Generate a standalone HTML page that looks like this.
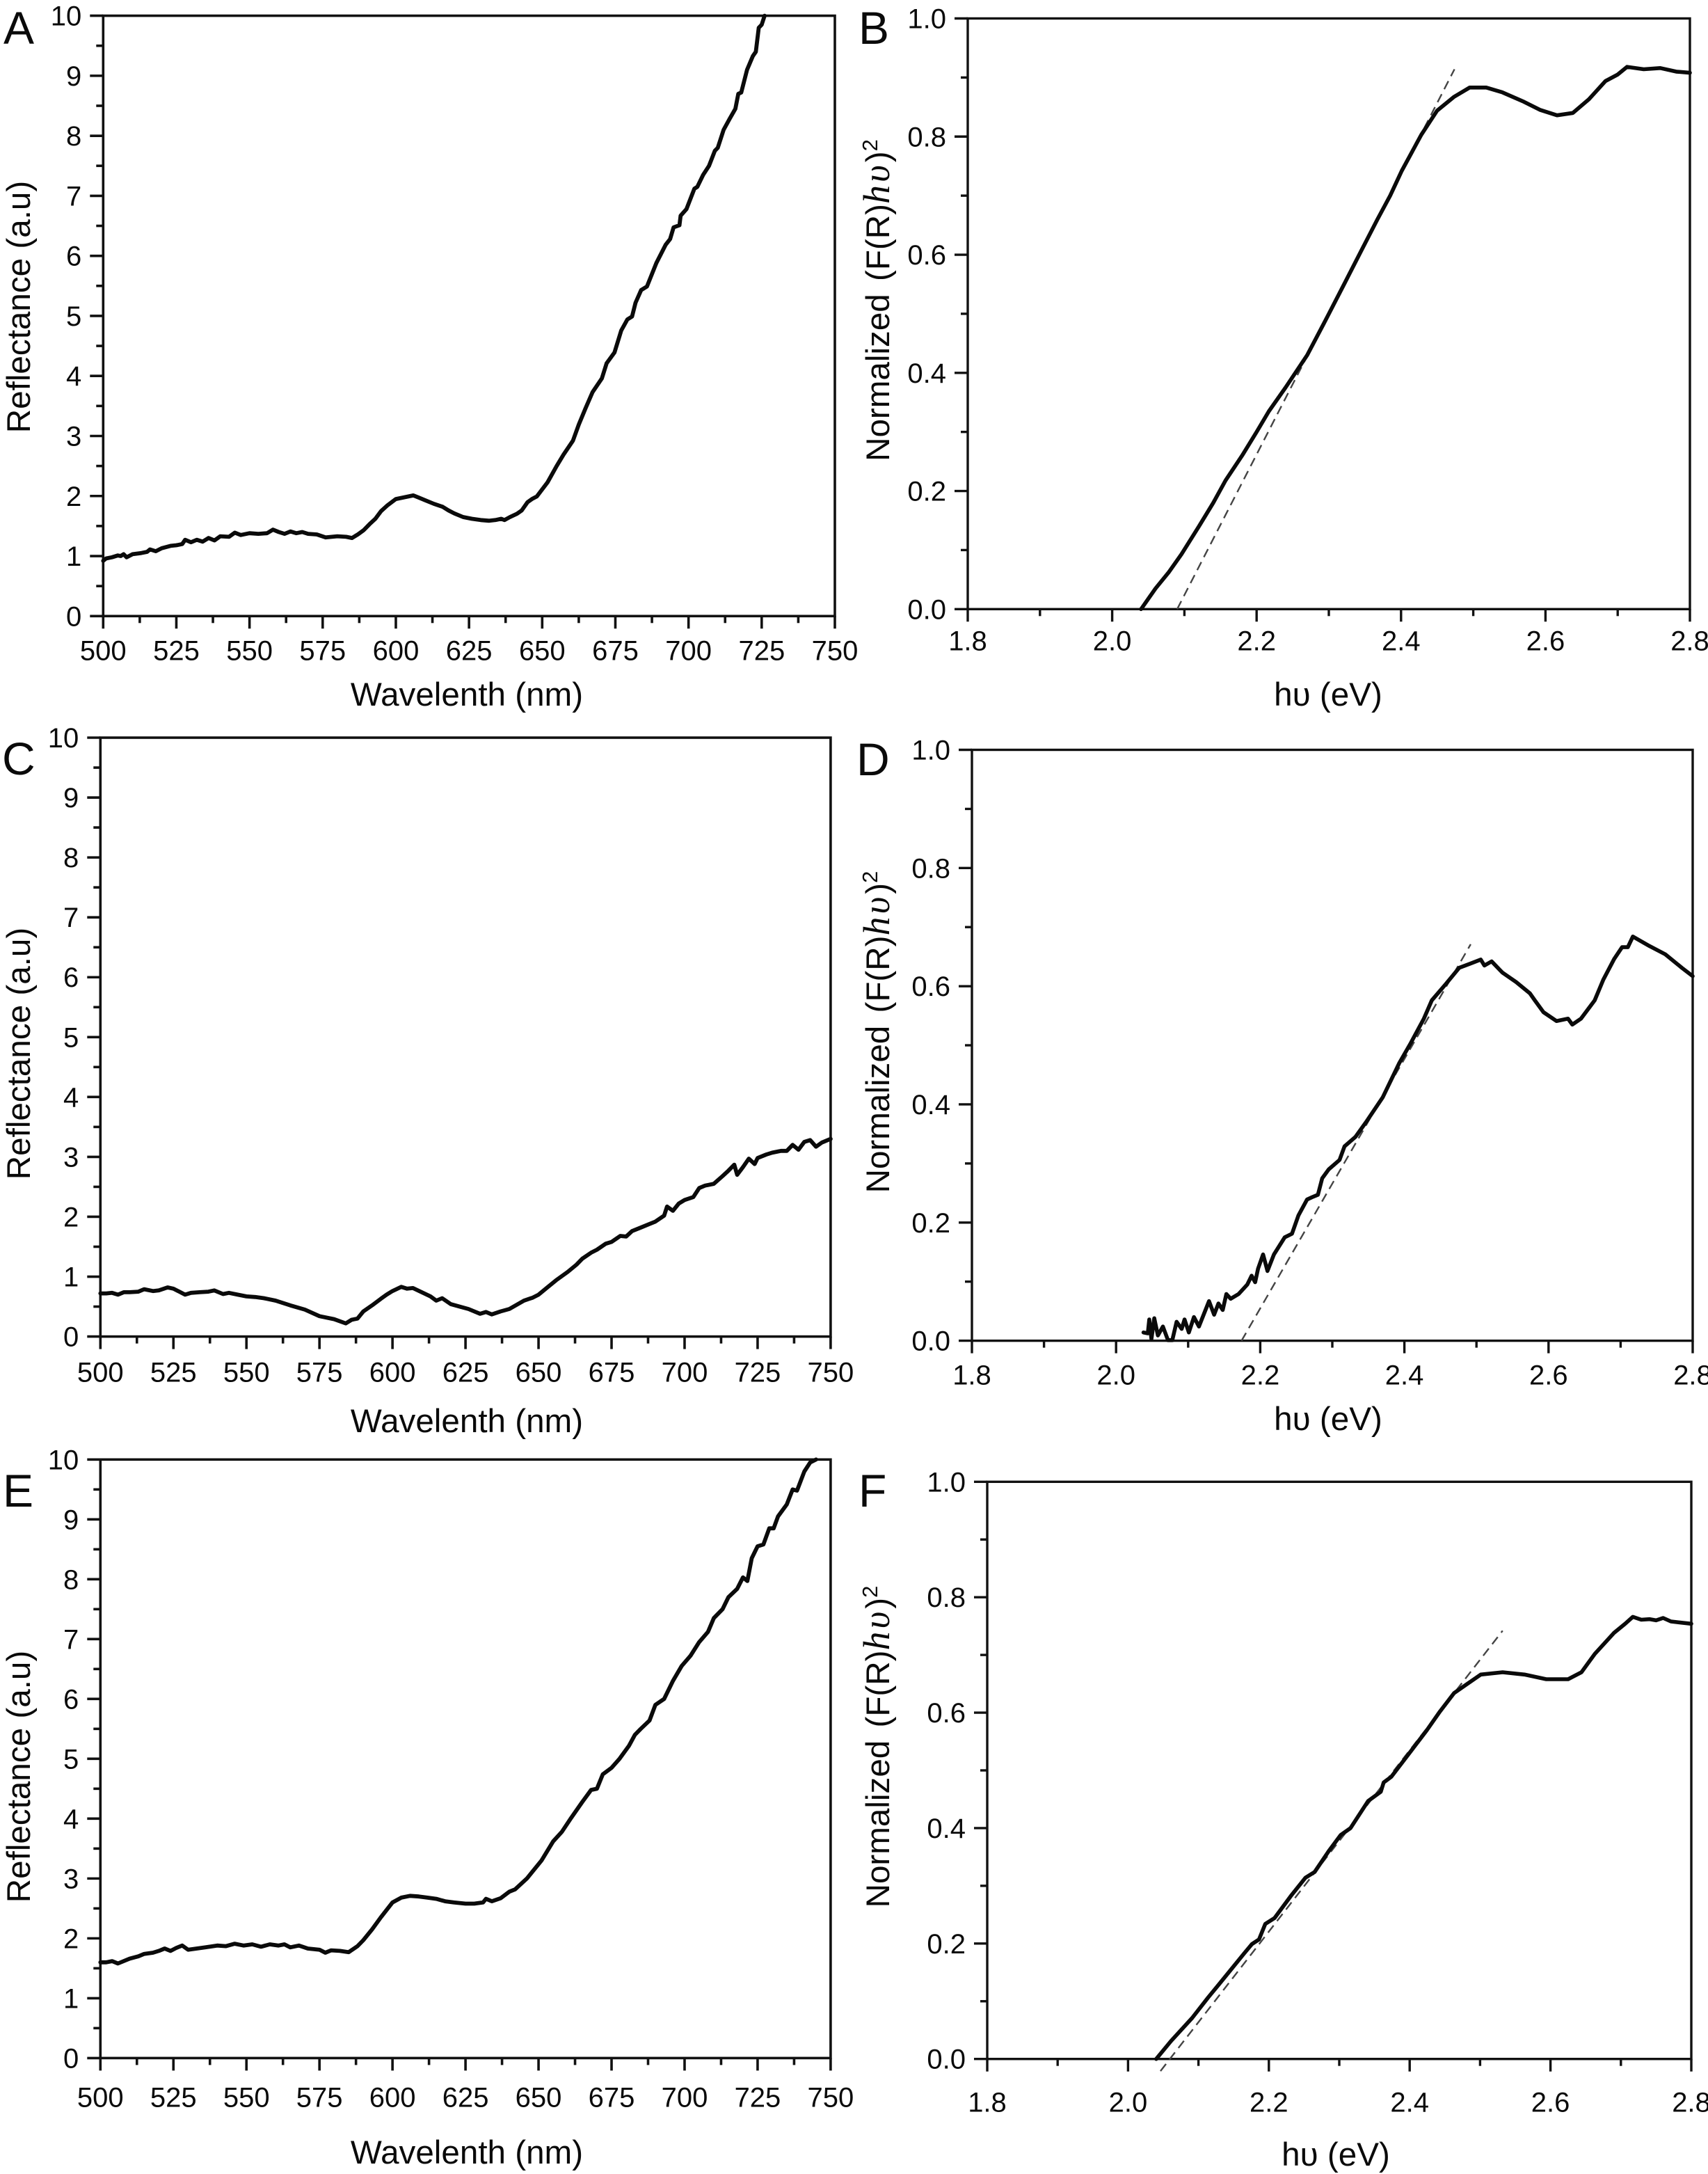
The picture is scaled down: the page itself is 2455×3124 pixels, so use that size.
<!DOCTYPE html>
<html lang="en">
<head>
<meta charset="utf-8">
<title>Reflectance and Tauc plots</title>
<style>
html,body{margin:0;padding:0;background:#fff;}
svg{display:block;}
text{font-family:"Liberation Sans",sans-serif;fill:#0a0a0a;}
.tick{font-size:40px;}
.title{font-size:47.6px;}
.norm{font-size:47.6px;word-spacing:5px;}
.hv{font-family:"Liberation Serif",serif;font-style:italic;font-size:54px;letter-spacing:4px;}
.letter{font-size:66px;}
</style>
</head>
<body>
<svg id="figure" xmlns="http://www.w3.org/2000/svg" width="2455" height="3124" viewBox="0 0 2455 3124">
  <rect x="0" y="0" width="2455" height="3124" fill="#fff"/>

  <text class="letter" x="5" y="63">A</text>
  <text class="letter" x="1234" y="63">B</text>
  <text class="letter" x="3" y="1113">C</text>
  <text class="letter" x="1231" y="1114">D</text>
  <text class="letter" x="4" y="2165">E</text>
  <text class="letter" x="1234" y="2165">F</text>

  <text class="title" text-anchor="middle" x="671" y="1014">Wavelenth (nm)</text>
  <text class="title" text-anchor="middle" x="671" y="2058">Wavelenth (nm)</text>
  <text class="title" text-anchor="middle" x="671" y="3109">Wavelenth (nm)</text>
  <text class="title" text-anchor="middle" x="1909" y="1014">hυ (eV)</text>
  <text class="title" text-anchor="middle" x="1909" y="2055">hυ (eV)</text>
  <text class="title" text-anchor="middle" x="1920" y="3112">hυ (eV)</text>

  <text class="title" text-anchor="middle" transform="translate(43 441) rotate(-90)">Reflectance (a.u)</text>
  <text class="title" text-anchor="middle" transform="translate(43 1514) rotate(-90)">Reflectance (a.u)</text>
  <text class="title" text-anchor="middle" transform="translate(43 2553) rotate(-90)">Reflectance (a.u)</text>

  <text class="norm" text-anchor="middle" transform="translate(1278 431.5) rotate(-90)">Normalized (F(R)<tspan class="hv">hυ</tspan>)<tspan dy="-17" font-size="31">2</tspan></text>
  <text class="norm" text-anchor="middle" transform="translate(1278 1483) rotate(-90)">Normalized (F(R)<tspan class="hv">hυ</tspan>)<tspan dy="-17" font-size="31">2</tspan></text>
  <text class="norm" text-anchor="middle" transform="translate(1278 2510) rotate(-90)">Normalized (F(R)<tspan class="hv">hυ</tspan>)<tspan dy="-17" font-size="31">2</tspan></text>
</svg>

<script>
var wavelengthTickLabels = ['500','525','550','575','600','625','650','675','700','725','750'];
var reflectanceTickLabels = ['0','1','2','3','4','5','6','7','8','9','10'];
var energyTickLabels = ['1.8','2.0','2.2','2.4','2.6','2.8'];
var normalizedTickLabels = ['0.0','0.2','0.4','0.6','0.8','1.0'];

var panelAWavelength = [500,501,503,505,506,507,508,510,513,515,516,518,520,523,525,527,528,530,532,534,536,538,540,543,545,547,550,553,556,558,560,562,564,566,568,570,573,576,580,583,585,587,589,591,593,595,597,600,603,606,608,610,613,616,618,620,623,626,629,631.9,634,636,637.1,639,641.4,643,645,646.5,648.2,651.8,654.9,657.3,660.5,662.5,664.8,667.2,670.4,672,674.7,677,679.1,680.7,681.9,683.8,685.8,689,692.2,693.7,694.9,696.9,697.3,699.3,702,703,705,707,709,710,712,714,716,717,718,720,722,723,724,725,726];
var panelAReflectance = [0.92,0.96,0.98,1.01,1.0,1.03,0.98,1.03,1.05,1.07,1.11,1.08,1.13,1.17,1.18,1.2,1.27,1.23,1.27,1.24,1.3,1.26,1.33,1.32,1.39,1.35,1.38,1.37,1.38,1.44,1.4,1.37,1.41,1.38,1.4,1.37,1.36,1.31,1.33,1.32,1.3,1.36,1.43,1.53,1.62,1.75,1.84,1.95,1.98,2.01,1.97,1.93,1.87,1.82,1.76,1.71,1.65,1.62,1.6,1.588,1.6,1.62,1.6,1.65,1.704,1.76,1.897,1.95,1.994,2.225,2.496,2.689,2.921,3.19,3.46,3.73,3.96,4.21,4.39,4.756,4.94,4.99,5.22,5.43,5.49,5.88,6.185,6.28,6.475,6.51,6.67,6.78,7.12,7.15,7.35,7.5,7.75,7.8,8.1,8.28,8.45,8.7,8.72,9.1,9.33,9.4,9.8,9.85,10];

var panelCWavelength = [500,502,504,506,508,510,513,515,518,520,523,525,527,529,531,534,537,539,542,544,547,550,553,556,560,565,570,575,580,584,586,588,590,593,596,598,600,603,605,607,610,613,615,617,620,623,626,630,632,634,637,640,645,648,650,653,656,660,663,665,668,670,673,675,678,680,682,685,688,690,693,694,696,698,700,703,705,707,710,713,715,717,718,720,722,724,725,728,730,733,735,737,739,741,743,745,747,750];
var panelCReflectance = [0.72,0.72,0.73,0.7,0.74,0.74,0.75,0.79,0.76,0.77,0.82,0.8,0.75,0.7,0.73,0.74,0.75,0.77,0.71,0.73,0.7,0.67,0.66,0.64,0.6,0.52,0.45,0.34,0.29,0.22,0.28,0.3,0.42,0.52,0.63,0.7,0.76,0.83,0.8,0.81,0.74,0.67,0.6,0.64,0.54,0.5,0.46,0.38,0.41,0.37,0.42,0.46,0.6,0.65,0.7,0.82,0.94,1.08,1.2,1.3,1.4,1.45,1.55,1.58,1.68,1.67,1.76,1.82,1.88,1.92,2.02,2.17,2.1,2.22,2.28,2.33,2.48,2.52,2.55,2.68,2.77,2.87,2.7,2.83,2.97,2.88,2.98,3.04,3.07,3.1,3.1,3.2,3.12,3.25,3.28,3.17,3.24,3.3];

var panelEWavelength = [500,502,504,506,510,513,515,518,520,522,524,526,528,530,533,536,540,543,546,549,552,555,558,561,563,565,568,571,575,577,579,582,585,588,590,593,596,600,603,606,609,612,615,618,621,625,628,631,632,634,637,640,642,646,651,655,658,661,665,668,670,672,675,677.7,681,683,685,688,690,693,696,699,702,705,708,710,713,715,718,720,721.5,723,725,727,729,730.5,732,735,737,738.5,741,743,745];
var panelEReflectance = [1.6,1.6,1.62,1.58,1.66,1.7,1.74,1.76,1.79,1.83,1.79,1.84,1.88,1.81,1.83,1.85,1.88,1.87,1.91,1.88,1.9,1.86,1.9,1.88,1.9,1.85,1.88,1.83,1.81,1.76,1.8,1.79,1.77,1.87,1.97,2.15,2.35,2.6,2.68,2.71,2.7,2.68,2.66,2.62,2.6,2.58,2.58,2.6,2.66,2.62,2.67,2.78,2.82,3.0,3.3,3.62,3.78,4.0,4.28,4.48,4.5,4.74,4.85,5.0,5.22,5.4,5.5,5.64,5.9,6.0,6.3,6.55,6.72,6.95,7.12,7.35,7.5,7.7,7.84,8.03,7.97,8.35,8.55,8.58,8.85,8.85,9.05,9.25,9.5,9.48,9.8,9.95,10];

var panelBEnergy = [2.04,2.06,2.078,2.096,2.12,2.14,2.157,2.18,2.2,2.217,2.24,2.27,2.295,2.322,2.345,2.367,2.385,2.401,2.428,2.45,2.473,2.495,2.518,2.54,2.57,2.593,2.616,2.638,2.66,2.683,2.7,2.713,2.736,2.759,2.781,2.8];
var panelBNormalized = [0,0.035,0.062,0.093,0.14,0.18,0.218,0.26,0.3,0.335,0.375,0.43,0.488,0.552,0.607,0.659,0.7,0.742,0.803,0.844,0.867,0.883,0.883,0.875,0.859,0.845,0.836,0.84,0.863,0.894,0.905,0.918,0.914,0.916,0.91,0.908];
var panelBFitEnergy = [2.09,2.474];
var panelBFitNormalized = [0,0.914];

var panelDEnergy = [2.038,2.044,2.046,2.049,2.053,2.058,2.065,2.072,2.078,2.084,2.091,2.095,2.101,2.108,2.115,2.129,2.136,2.142,2.148,2.153,2.159,2.17,2.182,2.188,2.193,2.197,2.204,2.21,2.219,2.234,2.244,2.253,2.265,2.272,2.28,2.286,2.295,2.31,2.317,2.332,2.348,2.37,2.393,2.408,2.427,2.438,2.457,2.476,2.491,2.506,2.511,2.521,2.536,2.555,2.574,2.581,2.593,2.611,2.627,2.633,2.645,2.664,2.676,2.691,2.702,2.71,2.717,2.74,2.762,2.785,2.8];
var panelDNormalized = [0.014,0.0125,0.036,0.003,0.038,0.009,0.024,0.001,0.001,0.032,0.02,0.036,0.014,0.04,0.024,0.067,0.044,0.063,0.052,0.079,0.071,0.079,0.095,0.11,0.099,0.122,0.146,0.118,0.146,0.175,0.181,0.212,0.239,0.243,0.247,0.275,0.29,0.306,0.329,0.345,0.372,0.412,0.47,0.502,0.545,0.576,0.603,0.631,0.638,0.645,0.635,0.642,0.623,0.607,0.588,0.576,0.556,0.541,0.545,0.535,0.545,0.576,0.611,0.646,0.666,0.666,0.684,0.668,0.654,0.631,0.617];
var panelDFitEnergy = [2.174,2.492];
var panelDFitNormalized = [0,0.671];

var panelFEnergy = [2.04,2.061,2.091,2.114,2.129,2.145,2.165,2.176,2.186,2.195,2.208,2.231,2.252,2.265,2.285,2.302,2.316,2.341,2.359,2.363,2.374,2.414,2.424,2.443,2.463,2.482,2.501,2.532,2.563,2.594,2.625,2.644,2.663,2.69,2.706,2.717,2.729,2.741,2.75,2.76,2.771,2.8];
var panelFNormalized = [0,0.031,0.071,0.107,0.129,0.153,0.183,0.199,0.207,0.234,0.244,0.282,0.314,0.324,0.36,0.388,0.4,0.447,0.463,0.479,0.489,0.553,0.569,0.602,0.634,0.65,0.666,0.67,0.666,0.658,0.658,0.67,0.702,0.738,0.754,0.766,0.761,0.762,0.76,0.764,0.758,0.754];
var panelFFitEnergy = [2.046,2.532];
var panelFFitNormalized = [-0.021,0.742];

var svgNS = 'http://www.w3.org/2000/svg';
var figure = document.getElementById('figure');

function create(tag, attrs, parent) {
  var el = document.createElementNS(svgNS, tag);
  for (var k in attrs) { el.setAttribute(k, attrs[k]); }
  parent.appendChild(el);
  return el;
}

function linePath(xs, ys, sx, sy) {
  var d = '';
  for (var i = 0; i < xs.length; i++) {
    d += (i ? 'L' : 'M') + sx(xs[i]).toFixed(1) + ' ' + sy(ys[i]).toFixed(1);
  }
  return d;
}

function drawPanel(p) {
  var g = create('g', {}, figure);
  
  

  var xNums = p.xTicks.map(Number);
  var yNums = p.yTicks.map(Number);
  var xMin = xNums[0], xMax = xNums[xNums.length - 1];
  var yMin = yNums[0], yMax = yNums[yNums.length - 1];
  var sx = function (v) { return p.left + (v - xMin) / (xMax - xMin) * (p.right - p.left); };
  var sy = function (v) { return p.bottom - (v - yMin) / (yMax - yMin) * (p.bottom - p.top); };

  var frame = create('rect', { x: p.left, y: p.top, width: p.right - p.left, height: p.bottom - p.top, fill: 'none', stroke: '#111', 'stroke-width': p.axisWidth }, g);
  
  

  xNums.forEach(function (v, i) {
    var x = sx(v);
    var t = create('line', { x1: x, x2: x, y1: p.bottom, y2: p.bottom + 18, stroke: '#111', 'stroke-width': p.axisWidth }, g);
    
    
    var lab = create('text', { x: x, y: p.bottom + p.xLabelOffset, 'text-anchor': 'middle', 'class': 'tick' }, g);
    lab.textContent = p.xTicks[i];
    
    
    if (i < xNums.length - 1) {
      var mx = sx((v + xNums[i + 1]) / 2);
      var m = create('line', { x1: mx, x2: mx, y1: p.bottom, y2: p.bottom + 10, stroke: '#111', 'stroke-width': p.axisWidth }, g);
      
      
    }
  });

  yNums.forEach(function (v, i) {
    var y = sy(v);
    var t = create('line', { x1: p.left - 19, x2: p.left, y1: y, y2: y, stroke: '#111', 'stroke-width': p.axisWidth }, g);
    
    
    var lab = create('text', { x: p.left - 31, y: y + 14, 'text-anchor': 'end', 'class': 'tick' }, g);
    lab.textContent = p.yTicks[i];
    
    
    if (i < yNums.length - 1) {
      var my = sy((v + yNums[i + 1]) / 2);
      var m = create('line', { x1: p.left - 10, x2: p.left, y1: my, y2: my, stroke: '#111', 'stroke-width': p.axisWidth }, g);
      
      
    }
  });

  if (p.fitX) {
    var fit = create('path', { d: linePath(p.fitX, p.fitY, sx, sy), fill: 'none', stroke: '#444', 'stroke-width': 2.4, 'stroke-dasharray': '13 8' }, g);
    
    
  }

  var curve = create('path', { d: linePath(p.x, p.y, sx, sy), fill: 'none', stroke: '#0a0a0a', 'stroke-width': p.curveWidth, 'stroke-linejoin': 'round', 'stroke-linecap': 'round' }, g);
  
  
}

drawPanel({ id: 'a', left: 148.3, right: 1200, top: 22.6, bottom: 885.3, axisWidth: 3.6, curveWidth: 5.8, xLabelOffset: 63, xTicks: wavelengthTickLabels, yTicks: reflectanceTickLabels, x: panelAWavelength, y: panelAReflectance });
drawPanel({ id: 'b', left: 1391, right: 2429, top: 26.5, bottom: 875.3, axisWidth: 3.4, curveWidth: 5.6, xLabelOffset: 59, xTicks: energyTickLabels, yTicks: normalizedTickLabels, x: panelBEnergy, y: panelBNormalized, fitX: panelBFitEnergy, fitY: panelBFitNormalized });
drawPanel({ id: 'c', left: 144.3, right: 1193.9, top: 1060, bottom: 1920.6, axisWidth: 3.6, curveWidth: 5.8, xLabelOffset: 65, xTicks: wavelengthTickLabels, yTicks: reflectanceTickLabels, x: panelCWavelength, y: panelCReflectance });
drawPanel({ id: 'd', left: 1397, right: 2433, top: 1077.5, bottom: 1926.6, axisWidth: 3.4, curveWidth: 5.6, xLabelOffset: 63, xTicks: energyTickLabels, yTicks: normalizedTickLabels, x: panelDEnergy, y: panelDNormalized, fitX: panelDFitEnergy, fitY: panelDFitNormalized });
drawPanel({ id: 'e', left: 144.3, right: 1193.9, top: 2097.3, bottom: 2957.4, axisWidth: 3.6, curveWidth: 5.8, xLabelOffset: 70, xTicks: wavelengthTickLabels, yTicks: reflectanceTickLabels, x: panelEWavelength, y: panelEReflectance });
drawPanel({ id: 'f', left: 1419, right: 2431, top: 2129.3, bottom: 2958.7, axisWidth: 3.4, curveWidth: 5.6, xLabelOffset: 76, xTicks: energyTickLabels, yTicks: normalizedTickLabels, x: panelFEnergy, y: panelFNormalized, fitX: panelFFitEnergy, fitY: panelFFitNormalized });
</script>
</body>
</html>
